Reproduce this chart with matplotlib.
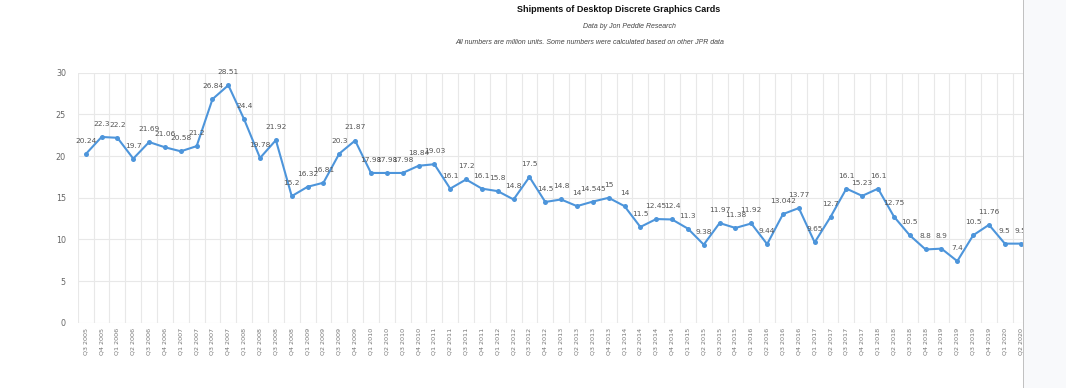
import matplotlib
matplotlib.use("Agg")
import matplotlib.pyplot as plt
from matplotlib.patches import Rectangle
from matplotlib.lines import Line2D

quarters = [
    "Q3 2005", "Q4 2005",
    "Q1 2006", "Q2 2006", "Q3 2006", "Q4 2006",
    "Q1 2007", "Q2 2007", "Q3 2007", "Q4 2007",
    "Q1 2008", "Q2 2008", "Q3 2008", "Q4 2008",
    "Q1 2009", "Q2 2009", "Q3 2009", "Q4 2009",
    "Q1 2010", "Q2 2010", "Q3 2010", "Q4 2010",
    "Q1 2011", "Q2 2011", "Q3 2011", "Q4 2011",
    "Q1 2012", "Q2 2012", "Q3 2012", "Q4 2012",
    "Q1 2013", "Q2 2013", "Q3 2013", "Q4 2013",
    "Q1 2014", "Q2 2014", "Q3 2014", "Q4 2014",
    "Q1 2015", "Q2 2015", "Q3 2015", "Q4 2015",
    "Q1 2016", "Q2 2016", "Q3 2016", "Q4 2016",
    "Q1 2017", "Q2 2017", "Q3 2017", "Q4 2017",
    "Q1 2018", "Q2 2018", "Q3 2018", "Q4 2018",
    "Q1 2019", "Q2 2019", "Q3 2019", "Q4 2019",
    "Q1 2020", "Q2 2020",
]

shipments = [
    20.24, 22.3,
    22.2, 19.7, 21.69, 21.06,
    20.58, 21.2, 26.84, 28.51,
    24.4, 19.78, 21.92, 15.2,
    16.32, 16.81, 20.3, 21.87,
    17.98, 17.98, 17.98, 18.84,
    19.03, 16.1, 17.2, 16.1,
    15.8, 14.8, 17.5, 14.5,
    14.8, 14, 14.545, 15,
    14, 11.5, 12.45, 12.4,
    11.3, 9.38, 11.97, 11.38,
    11.92, 9.44, 13.042, 13.77,
    9.65, 12.7, 16.1, 15.23,
    16.1, 12.75, 10.5, 8.8,
    8.9, 7.4, 10.5, 11.76,
    9.5, 9.5,
]

point_labels = [
    "20.24", "22.3",
    "22.2", "19.7", "21.69", "21.06",
    "20.58", "21.2", "26.84", "28.51",
    "24.4", "19.78", "21.92", "15.2",
    "16.32", "16.81", "20.3", "21.87",
    "17.98", "17.98", "17.98", "18.84",
    "19.03", "16.1", "17.2", "16.1",
    "15.8", "14.8", "17.5", "14.5",
    "14.8", "14", "14.545", "15",
    "14", "11.5", "12.45", "12.4",
    "11.3", "9.38", "11.97", "11.38",
    "11.92", "9.44", "13.042", "13.77",
    "9.65", "12.7", "16.1", "15.23",
    "16.1", "12.75", "10.5", "8.8",
    "8.9", "7.4", "10.5", "11.76",
    "9.5", "9.5",
]

y_ticks = [0, 5, 10, 15, 20, 25, 30]

W, H = 1066, 388
fig = plt.figure(figsize=(W / 100, H / 100), dpi=100)
fig.patch.set_facecolor("white")

left_px, right_px = 77.8, 1028.6
top_px, bottom_px = 72.8, 322.8
ax = fig.add_axes([left_px / W, (H - bottom_px) / H,
                   (right_px - left_px) / W, (bottom_px - top_px) / H])

n = len(quarters)
x = list(range(n))
ax.plot(x, shipments, color="#4d95db", lw=1.5, marker="o", markersize=3.6,
        markeredgewidth=0, zorder=3, clip_on=False)

for xi, yi, lab in zip(x, shipments, point_labels):
    ax.annotate(lab, (xi, yi), xytext=(0, 9.4), textcoords="offset points",
                ha="center", va="center", fontsize=5.3, color="#555555",
                zorder=4)

ax.set_xlim(-0.5, n - 0.5)
ax.set_ylim(0, 30)
ax.set_yticks(y_ticks)
ax.set_xticks(x)
ax.set_xticklabels(quarters, rotation=90, fontsize=4.6, color="#777777")
ax.tick_params(axis="y", length=0, pad=8.5, labelsize=5.8, labelcolor="#666666")
ax.tick_params(axis="x", length=0, pad=3.6)

for yv in y_ticks:
    ax.axhline(yv, color="#e8e8e8", lw=0.8, zorder=1)
for i in range(n + 1):
    ax.axvline(i - 0.5, color="#e8e8e8", lw=0.8, zorder=1)
for s in ax.spines.values():
    s.set_visible(False)
ax.set_facecolor("white")

fig.text(619 / W, 1 - 9 / H, "Shipments of Desktop Discrete Graphics Cards",
         ha="center", va="center", fontsize=6.5, fontweight="bold",
         family="Liberation Sans", color="#111111")
fig.text(629 / W, 1 - 27 / H, "Data by Jon Peddie Research",
         ha="center", va="center", fontsize=5, style="italic",
         family="Liberation Sans", color="#444444")
fig.text(590 / W, 1 - 43 / H,
         "All numbers are million units. Some numbers were calculated based on other JPR data",
         ha="center", va="center", fontsize=5, style="italic",
         family="Liberation Sans", color="#444444")

fig.add_artist(Rectangle((1022.5 / W, 0), (W - 1022.5) / W, 1,
                         transform=fig.transFigure, facecolor="#f8f9fb",
                         edgecolor="none", zorder=10))
fig.add_artist(Line2D([1022.5 / W, 1022.5 / W], [0, 1],
                      transform=fig.transFigure, color="#c0c0c0", lw=0.7,
                      zorder=11))

fig.savefig("out.png", dpi=100)
